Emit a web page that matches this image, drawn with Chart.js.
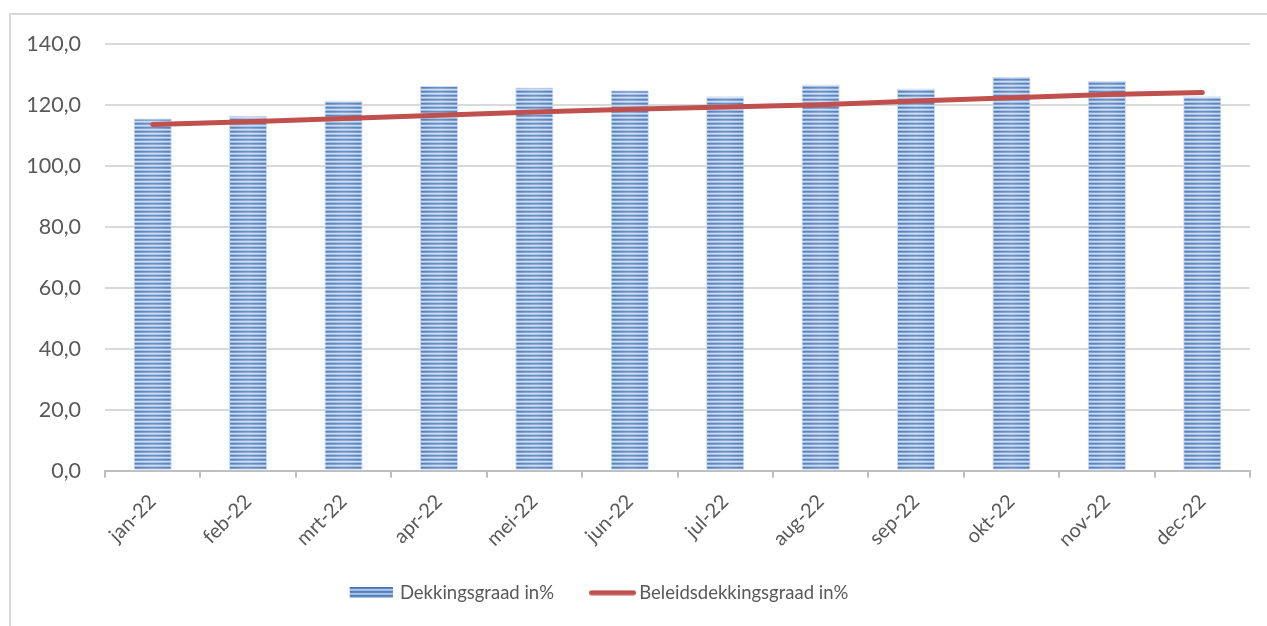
<!DOCTYPE html>
<html>
<head>
<meta charset="utf-8">
<script src="https://cdn.jsdelivr.net/npm/chart.js@4.4.1/dist/chart.umd.min.js"></script>
<style>
  html, body { margin: 0; padding: 0; background: #fff; }
  #kader {
    position: absolute; left: 9px; top: 13px;
    width: 1258px; height: 613px;
    border-left: 2px solid #d9d9d9; border-top: 2px solid #d9d9d9;
  }
  #grafiek { display: block; }
</style>
</head>
<body>
<div id="kader"><canvas id="grafiek" width="1256" height="611"></canvas></div>
<script>
const maanden = ['jan-22', 'feb-22', 'mrt-22', 'apr-22', 'mei-22', 'jun-22',
                 'jul-22', 'aug-22', 'sep-22', 'okt-22', 'nov-22', 'dec-22'];
const dekkingsgraad = [115.6, 116.5, 121.5, 126.2, 125.7, 124.8, 122.9, 126.7, 125.4, 129.2, 127.9, 122.9];
const beleidsdekkingsgraad = [113.6, 114.5, 115.6, 116.6, 117.7, 118.6, 119.3, 120.1, 121.3, 122.4, 123.4, 124.1];
const yTicks = [0, 20, 40, 60, 80, 100, 120, 140];

const tekstKleur = '#595959';
const lettertype = 'Lato, "Open Sans", sans-serif';

// horizontale streepjes voor de staven
function streepTegel() {
  const c = document.createElement('canvas');
  c.width = 1; c.height = 4;
  const g = c.getContext('2d');
  const rijen = ['#3e70b3', '#6890c9', '#c4d5ed', '#93b2dd'];
  rijen.forEach((kleur, i) => { g.fillStyle = kleur; g.fillRect(0, i, 1, 1); });
  return c;
}
const ctx = document.getElementById('grafiek').getContext('2d');
const streepPatroon = ctx.createPattern(streepTegel(), 'repeat');

// legendasymbolen: het zichtbare deel staat rechts in het vak
const symboolBreedte = 62;
function legendaBlok() {
  const c = document.createElement('canvas');
  c.width = 66; c.height = 11;
  const g = c.getContext('2d');
  g.fillStyle = g.createPattern(streepTegel(), 'repeat');
  g.fillRect(23, 0, 43, 11);
  return c;
}
function legendaLijn() {
  const c = document.createElement('canvas');
  c.width = 74; c.height = 6;
  const g = c.getContext('2d');
  g.strokeStyle = '#c0504d';
  g.lineWidth = 5;
  g.lineCap = 'round';
  g.beginPath(); g.moveTo(29.5, 3); g.lineTo(71.5, 3); g.stroke();
  return c;
}
const symbolen = [legendaBlok(), legendaLijn()];

// lichte glans over het midden van elke staaf
const staafGlans = {
  id: 'staafGlans',
  afterDatasetDraw(chart, args) {
    if (args.index !== 0) return;
    const c = chart.ctx;
    c.save();
    args.meta.data.forEach(bar => {
      const links = bar.x - bar.width / 2;
      const gr = c.createLinearGradient(links, 0, links + bar.width, 0);
      gr.addColorStop(0, 'rgba(255,255,255,0.1)');
      gr.addColorStop(0.5, 'rgba(255,255,255,0.25)');
      gr.addColorStop(1, 'rgba(255,255,255,0.1)');
      c.fillStyle = gr;
      c.fillRect(links, bar.y, bar.width, bar.base - bar.y);
    });
    c.restore();
  }
};

// legenda iets naar links, onder het midden van de grafiek
const legendaPlaats = {
  id: 'legendaPlaats',
  afterLayout(chart) { chart.legend.right -= 84; }
};

new Chart(ctx, {
  data: {
    labels: maanden,
    datasets: [
      {
        type: 'bar',
        label: 'Dekkingsgraad in%',
        data: dekkingsgraad,
        backgroundColor: streepPatroon,
        borderColor: 'rgba(196,212,236,0.9)',
        borderWidth: 1,
        barPercentage: 0.4,
        categoryPercentage: 1,
        order: 1
      },
      {
        type: 'line',
        label: 'Beleidsdekkingsgraad in%',
        data: beleidsdekkingsgraad,
        borderColor: '#c0504d',
        backgroundColor: '#c0504d',
        borderWidth: 5,
        borderCapStyle: 'round',
        borderJoinStyle: 'round',
        pointRadius: 0,
        tension: 0,
        order: 0
      }
    ]
  },
  options: {
    responsive: false,
    animation: false,
    layout: { padding: { top: 0, right: 17, bottom: 14, left: 0 } },
    plugins: {
      tooltip: { enabled: false },
      legend: {
        position: 'bottom',
        labels: {
          color: tekstKleur,
          font: { family: lettertype, size: 18.5 },
          usePointStyle: true,
          pointStyleWidth: symboolBreedte,
          padding: 14,
          generateLabels(chart) {
            return chart.data.datasets.map((ds, i) => ({
              text: ds.label,
              pointStyle: symbolen[i],
              fontColor: tekstKleur,
              datasetIndex: i,
              hidden: false,
              lineWidth: 0
            }));
          }
        }
      }
    },
    scales: {
      x: {
        afterFit(axis) { axis.height += 6; },
        grid: {
          display: true,
          offset: true,
          drawOnChartArea: false,
          drawTicks: true,
          tickLength: 7,
          color: '#bfbfbf',
          lineWidth: 2
        },
        border: { display: true, color: '#bfbfbf', width: 2 },
        ticks: {
          color: tekstKleur,
          font: { family: lettertype, size: 20 },
          minRotation: 45,
          maxRotation: 45,
          padding: 12
        }
      },
      y: {
        min: 0,
        max: 140,
        afterBuildTicks(axis) { axis.ticks = yTicks.map(v => ({ value: v })); },
        afterFit(axis) {
          axis.width = 94;
          axis.paddingTop = 29;
          axis.paddingBottom = 14;
        },
        grid: { color: '#d9d9d9', lineWidth: 2, drawTicks: false },
        border: { display: false },
        ticks: {
          color: tekstKleur,
          font: { family: lettertype, size: 21.5 },
          padding: 24,
          callback: v => v.toFixed(1).replace('.', ',')
        }
      }
    }
  },
  plugins: [staafGlans, legendaPlaats]
});
</script>
</body>
</html>
